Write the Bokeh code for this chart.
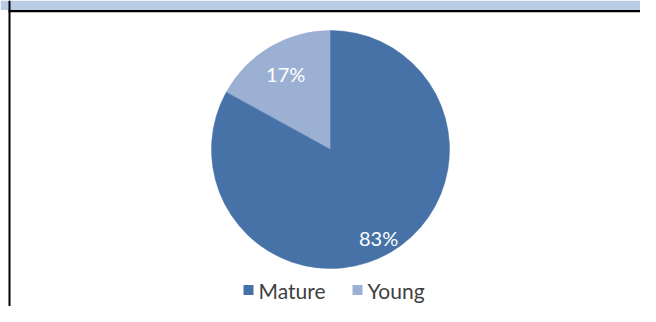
import math
from bokeh.plotting import figure
from bokeh.models import ColumnDataSource, Range1d
from bokeh.core.properties import value
from bokeh.embed import file_html
from bokeh.resources import INLINE

# ---- data ----
labels = ["Young", "Mature"]
shares = [17, 83]
colors = ["#9cb0d4", "#4672a7"]
pct_text = ["17%", "83%"]
legend_order = ["Mature", "Young"]

# ---- figure ----
W, H = 640, 306
p = figure(width=W, height=H, output_backend="svg", toolbar_location=None,
           x_range=Range1d(0, W), y_range=Range1d(0, H),
           x_axis_location=None, y_axis_location=None, min_border=0)
p.grid.visible = False
p.outline_line_color = None
p.background_fill_color = "white"
p.border_fill_color = "white"


def X(xr):
    return xr


def Y(yr):
    return H - yr


# header band and frame lines
p.quad(left=[0], right=[W], bottom=[Y(9.5)], top=[H], fill_color="#b8cce4", line_color=None)
p.quad(left=[X(8)], right=[W], bottom=[Y(11.8)], top=[Y(9.5)], fill_color="black", line_color=None)
p.quad(left=[X(8)], right=[X(10)], bottom=[0], top=[H], fill_color="black", line_color=None)

# ---- pie ----
cx, cy, R = X(330), Y(149), 119
total = sum(shares)
starts, ends = [], []
a = math.pi / 2
for s in shares:
    starts.append(a)
    a += s / total * 2 * math.pi
    ends.append(a)

src = ColumnDataSource(dict(label=labels, start=starts, end=ends, color=colors, txt=pct_text))
p.wedge(x=cx, y=cy, radius=R, radius_units="screen", start_angle="start", end_angle="end",
        fill_color="color", line_color="color", line_width=0.5, source=src)

label_frac = [0.74, 0.86]
lx, ly = [], []
for st, en, f in zip(starts, ends, label_frac):
    m = (st + en) / 2
    lx.append(cx + f * R * math.cos(m) - (4 if f > 0.8 else 0))
    ly.append(cy + f * R * math.sin(m))
p.text(x=lx, y=ly, text=pct_text, text_color="white", text_font=value("Lato"),
       text_font_size="20px", text_align="center", text_baseline="middle")

# ---- legend ----
sq_x = [X(248), X(357)]
leg_y = Y(289.5)
leg_colors = [colors[labels.index(n)] for n in legend_order]
p.scatter(x=sq_x, y=[leg_y] * 2, marker="square", size=10, fill_color=leg_colors, line_color=None)
p.text(x=[x + 10 for x in sq_x], y=[leg_y] * 2, text=legend_order, text_color="#404040",
       text_font=value("Lato"), text_font_size="21px", text_align="left", text_baseline="middle")

open("out.html", "w").write(file_html(p, INLINE))
